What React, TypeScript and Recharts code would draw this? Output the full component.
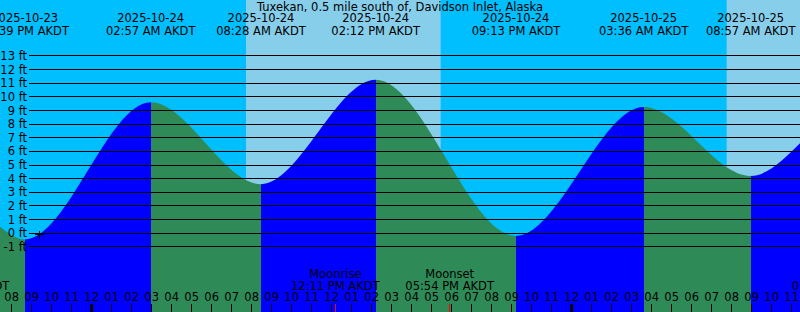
import { AreaChart, Area, XAxis, YAxis, ReferenceArea, ReferenceLine, ReferenceDot } from 'recharts';

const W = 800;
const H = 312;
const FONT = '"DejaVu Sans", sans-serif';
const FS = 11.5;

// high / low tides (day of Oct 2025, AKDT clock, feet)
const tideDay = [23, 24, 24, 24, 24, 25, 25];
const tideClock = ['20:39', '02:57', '08:28', '14:12', '21:13', '03:36', '08:57'];
const tideFeet = [-0.45, 9.6, 3.6, 11.25, -0.2, 9.25, 4.2];

// level of the curve at the two window edges
const edgeDay = [23, 25];
const edgeClock = ['19:25', '11:25'];
const edgeFeet = [0.48, 6.6];

// sunrise, sunset, sunrise
const sunDay = [24, 24, 25];
const sunClock = ['07:43', '17:27', '07:45'];

const moonDay = [23, 24, 24, 25];
const moonClock = ['17:40', '12:11', '17:54', '13:13'];
const moonName = ['Moonset', 'Moonrise', 'Moonset', 'Moonrise'];

const markDay = 23;
const markClock = '21:24';
const markFeet = -0.12;

const footTicks = [-1, 0, 1, 2, 3, 4, 5, 6, 7, 8, 9, 10, 11, 12, 13];
const footDomain = [-5.77, 17.1];

const RISE = '#0000FF';
const FALL = '#2E8B57';

function hours(day: number, clock: string) {
  const [h, m] = clock.split(':').map(Number);
  return (day - 24) * 24 + h + m / 60;
}

function fmtClock(clock: string) {
  const [h, m] = clock.split(':').map(Number);
  const h12 = h % 12 === 0 ? 12 : h % 12;
  return `${String(h12).padStart(2, '0')}:${String(m).padStart(2, '0')} ${h < 12 ? 'AM' : 'PM'} AKDT`;
}

const T0 = hours(edgeDay[0], edgeClock[0]);
const T1 = hours(edgeDay[1], edgeClock[1]);

const data = [
  { t: T0, ft: edgeFeet[0] },
  ...tideClock.map((c, i) => ({ t: hours(tideDay[i], c), ft: tideFeet[i] })),
  { t: T1, ft: edgeFeet[1] },
];

// hard colour stops: blue while rising, green while falling
const stops: { off: number; color: string }[] = [];
for (let i = 0; i < data.length - 1; i++) {
  const color = data[i + 1].ft > data[i].ft ? RISE : FALL;
  stops.push({ off: (data[i].t - T0) / (T1 - T0), color });
  stops.push({ off: (data[i + 1].t - T0) / (T1 - T0), color });
}

const sunT = sunClock.map((c, i) => hours(sunDay[i], c));
const dayBands = [
  [sunT[0], sunT[1]],
  [sunT[2], T1],
];

const hourTicks: number[] = [];
for (let h = Math.ceil(T0); h <= Math.floor(T1); h++) hourTicks.push(h);

function FootTick(props: any) {
  const { y, payload } = props;
  return (
    <g>
      <text x={27} y={y + 4} textAnchor="end" fontSize={FS} fill="#000">
        {payload.value} ft
      </text>
      <line x1={29} x2={W} y1={y} y2={y} stroke="#000" shapeRendering="crispEdges" />
    </g>
  );
}

function HourTick(props: any) {
  const { x, payload } = props;
  const h = ((payload.value % 24) + 24) % 24;
  const h12 = h % 12 === 0 ? 12 : h % 12;
  return (
    <g>
      <text x={x} y={301} textAnchor="middle" fontSize={FS} fill="#000">
        {String(h12).padStart(2, '0')}
      </text>
      {h === 0 ? (
        <rect x={x - 1.5} y={304} width={3} height={8} fill="#000" />
      ) : (
        <line x1={x} x2={x} y1={304} y2={H} stroke="#000" shapeRendering="crispEdges" />
      )}
    </g>
  );
}

const tideLabel = (i: number) => (props: any) => {
  const x = props.viewBox.x;
  return (
    <g>
      <text x={x} y={22} textAnchor="middle" fontSize={FS} fill="#000">
        {`2025-10-${tideDay[i]}`}
      </text>
      <text x={x} y={35} textAnchor="middle" fontSize={FS} fill="#000">
        {fmtClock(tideClock[i])}
      </text>
    </g>
  );
};

const moonLabel = (i: number) => (props: any) => {
  const x = props.viewBox.x;
  return (
    <g>
      <text x={x} y={278} textAnchor="middle" fontSize={FS} fill="#000">
        {moonName[i]}
      </text>
      <text x={x} y={290} textAnchor="middle" fontSize={FS} fill="#000">
        {fmtClock(moonClock[i])}
      </text>
      <line x1={x} x2={x} y1={304} y2={H} stroke="#FF0000" shapeRendering="crispEdges" />
    </g>
  );
};

const Cross = (props: any) => {
  const { cx, cy } = props;
  return (
    <path d={`M${cx - 4.5},${cy}H${cx + 4.5}M${cx},${cy - 4}V${cy + 4}`} stroke="#000" fill="none" shapeRendering="crispEdges" />
  );
};

export default function App() {
  return (
    <div
      style={{
        position: 'fixed',
        left: 0,
        top: 0,
        width: W,
        height: H,
        background: '#00BFFF',
        fontFamily: FONT,
        overflow: 'hidden',
      }}
    >
      <AreaChart width={W} height={H} data={data} margin={{ top: 0, right: 0, bottom: 0, left: 0 }}>
        <defs>
          <linearGradient id="tideFill" x1="0" y1="0" x2="1" y2="0">
            {stops.map((s, i) => (
              <stop key={i} offset={s.off} stopColor={s.color} />
            ))}
          </linearGradient>
        </defs>
        {dayBands.map(([a, b], i) => (
          <ReferenceArea
            key={i}
            x1={a}
            x2={b}
            y1={footDomain[0]}
            y2={footDomain[1]}
            fill="#87CEEB"
            fillOpacity={1}
            stroke="none"
          />
        ))}
        <Area
          type="monotone"
          dataKey="ft"
          stroke="none"
          fill="url(#tideFill)"
          fillOpacity={1}
          baseValue="dataMin"
          isAnimationActive={false}
          dot={false}
          activeDot={false}
        />
        <XAxis
          type="number"
          dataKey="t"
          domain={[T0, T1]}
          allowDataOverflow
          ticks={hourTicks}
          interval={0}
          mirror
          axisLine={false}
          tickLine={false}
          tick={<HourTick />}
        />
        <YAxis
          type="number"
          domain={footDomain}
          allowDataOverflow
          ticks={footTicks}
          interval={0}
          mirror
          axisLine={false}
          tickLine={false}
          tick={<FootTick />}
        />
        {tideClock.map((c, i) => (
          <ReferenceLine key={'t' + i} x={hours(tideDay[i], c)} stroke="none" label={tideLabel(i)} />
        ))}
        {moonClock.map((c, i) => (
          <ReferenceLine
            key={'m' + i}
            x={hours(moonDay[i], c)}
            stroke="none"
            ifOverflow="visible"
            label={moonLabel(i)}
          />
        ))}
        <ReferenceDot x={hours(markDay, markClock)} y={markFeet} shape={Cross} />
      </AreaChart>
      <svg width={W} height={H} style={{ position: 'absolute', left: 0, top: 0, pointerEvents: 'none' }}>
        <text x={W / 2} y={11} textAnchor="middle" fontSize={FS} fill="#000" fontFamily={FONT}>
          Tuxekan, 0.5 mile south of, Davidson Inlet, Alaska
        </text>
      </svg>
    </div>
  );
}
